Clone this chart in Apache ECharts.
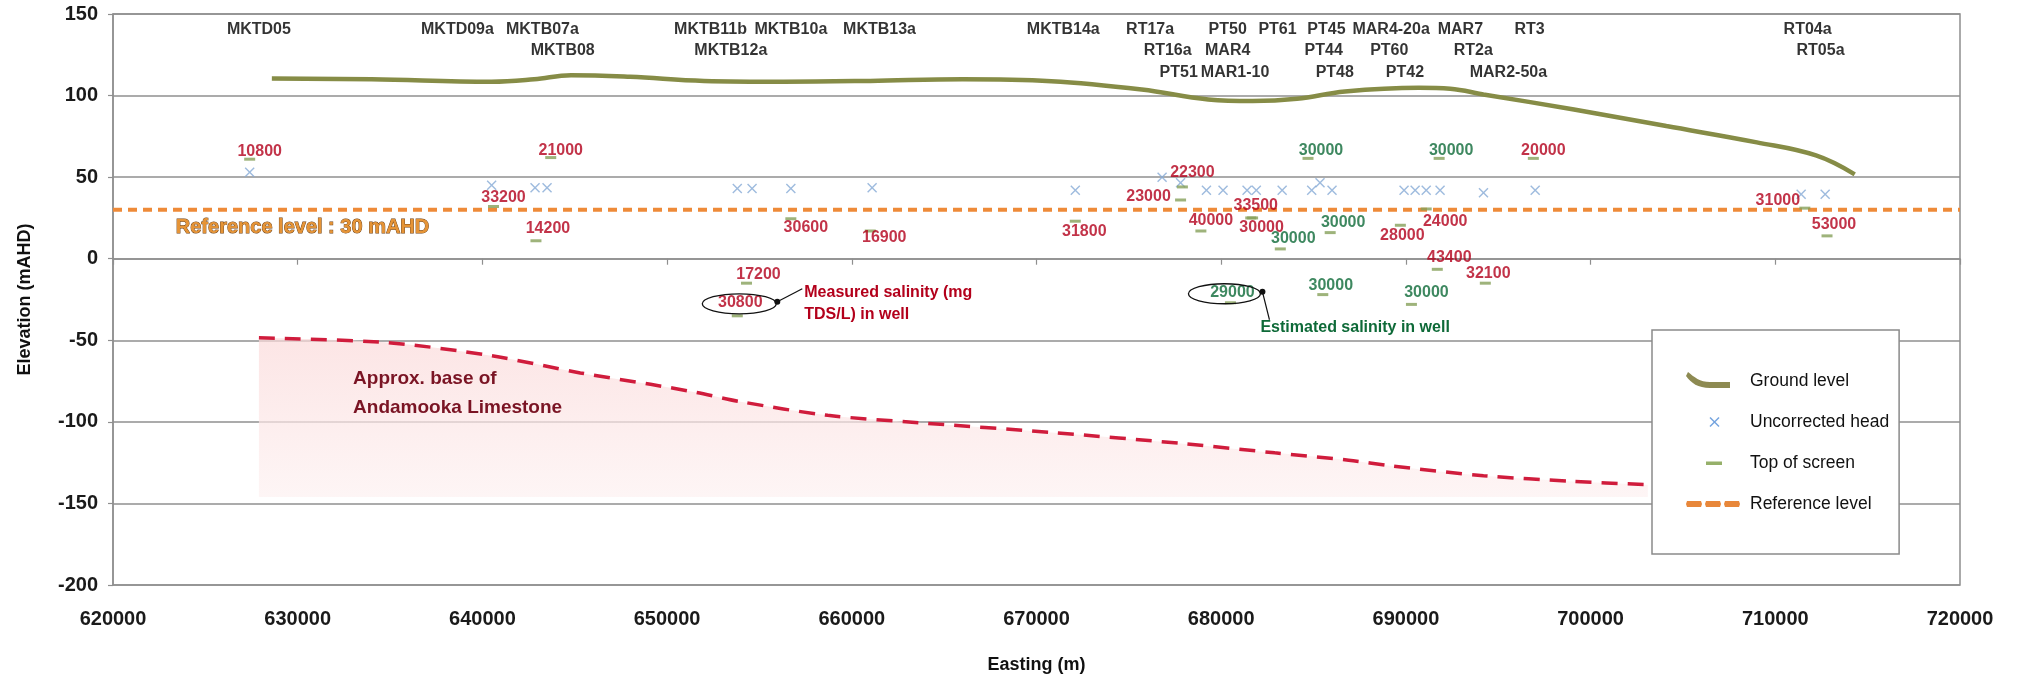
<!DOCTYPE html>
<html>
<head>
<meta charset="utf-8">
<title>Section – elevation and salinity</title>
<script src="https://cdn.jsdelivr.net/npm/echarts@6.0.0/dist/echarts.min.js"></script>
<style>
  html, body { margin: 0; padding: 0; background: #ffffff; }
  #chart { width: 2017px; height: 680px; }
</style>
</head>
<body>
<div id="chart"></div>
<script>
// ---- Axis ranges ----
const xRange = [620000, 720000, 10000];
const yRange = [-200, 150, 50];
const referenceLevel = 30;

// ---- Ground surface along the section (easting m / elevation mAHD) ----
const groundEasting   = [628600, 634000, 640500, 642800, 644800, 648000, 652000, 656300, 661000, 666000, 670800, 675700, 679300, 681700, 684100, 686700, 690700, 692400, 694200, 699100, 704100, 709000, 712200, 714300];
const groundElevation = [110.5,  110,    108.5,  110,    112.5,  111.5,  109,    108.5,  109,    110,    108.8,  103.7,  97.6,   96.6,   98,     102.5,  104.8,  104.2,  100.7,  91.5,   81.3,   71.3,   63.3,   51.7];

// ---- Approximate base of Andamooka Limestone ----
const baseEasting   = [627900, 634900, 640500, 645300, 649100, 651600, 653900, 658700, 663600, 670800, 678100, 682900, 686900, 689200, 694200, 699100, 703100];
const baseElevation = [-48.5,  -51.5,  -59.5,  -70,    -77,    -82,    -87.5,  -96,    -100.5, -106.5, -113.5, -119,   -123.5, -127,   -133,   -136.5, -138.5];
const baseShadeFloor = -146;

// ---- Uncorrected head in wells ----
const headEasting   = [627400, 640500, 642850, 643500, 653800, 654600, 656700, 661100, 672100, 676800, 677800, 679200, 680100, 681400, 681900, 683300, 684900, 685350, 686000, 689900, 690500, 691100, 691850, 694200, 697000, 711400, 712700];
const headElevation = [53,     45,     43.5,   43.5,   43,     43,     43,     43.5,   42,     50,     46.5,   42,     42,     42,     42,     42,     42,     46.5,   42,     42,     42,     42,     42,     40.5,   42,     39.5,   39.5];

// ---- Top of screen and salinity (mg TDS/L) ----
const screenEasting  = [627400, 643700, 640600, 642900, 656700, 661000, 672100, 654300, 653800, 684700, 691800, 696900, 677900, 677800, 678900, 681600, 681700, 683200, 685900, 689700, 691100, 691700, 694300, 680500, 685500, 690300, 711600, 712800];
const screenTop      = [61,     62,     32,     11,     24.5,   17,     23,     -15,    -35,    61.5,   61.5,   61.5,   44,     36,     17,     25,     25,     6,      16,     20.5,   30.5,   -6.5,   -15,    -27,    -22,    -28,    31,     14];
const salinity       = [10800,  21000,  33200,  14200,  30600,  16900,  31800,  17200,  30800,  30000,  30000,  20000,  22300,  23000,  40000,  33500,  30000,  30000,  30000,  28000,  24000,  43400,  32100,  29000,  30000,  30000,  31000,  53000];
const salinitySource = ['M','M','M','M','M','M','M','M','M','E','E','M','M','M','M','M','M','E','E','M','M','M','M','E','E','E','M','M'];

// Label placement of each salinity value relative to its screen marker (px)
const screenLabelOffset = [[10,-8],[10,-7],[10,-9],[12,-12],[15,9],[14,7],[9,10],[12,-9],[3,-13],[13,-8],[12,-8],[10,-8],[10,-14],[-32,-3],[10,-10],[5,-12],[9,10],[13,-10],[13,-10],[2,10],[19,13],[12,-12],[3,-10],[2,-10],[8,-9],[15,-12],[-27,-8],[7,-11]];

// ---- Well names ----
const wellName    = ['MKTD05','MKTD09a','MKTB07a','MKTB08','MKTB11b','MKTB12a','MKTB10a','MKTB13a','MKTB14a','RT17a','RT16a','PT51','PT50','MAR4','MAR1-10','PT61','PT45','PT44','PT48','MAR4-20a','PT60','PT42','MAR7','RT2a','MAR2-50a','RT3','RT04a','RT05a'];
const wellEasting = [627900, 638650, 643250, 644350, 652350, 653450, 656700, 661500, 671450, 676150, 677100, 677700, 680350, 680350, 680750, 683050, 685700, 685550, 686150, 689200, 689100, 689950, 692950, 693650, 695550, 696700, 711750, 712450];
const wellRow     = [0, 0, 0, 1, 0, 1, 0, 0, 0, 0, 1, 2, 0, 1, 2, 0, 0, 1, 2, 0, 1, 2, 0, 1, 2, 0, 0, 1];
const nameRowElevation = [140.5, 127.5, 114];

// ---- Styling ----
const FONT = "'Liberation Sans', Arial, sans-serif";
const RED = '#b3001b';
const GREEN = '#0e6a38';
const GRID = '#8f8f8f';

const zip = (a, b) => a.map((v, i) => [v, b[i]]);

const chart = echarts.init(document.getElementById('chart'), null, { renderer: 'canvas' });

// Legend icons drawn on a 59 x 20 box (the leading moves fix the icon bounds)
const BOX = 'M0,0M59,20';
const ICON_GROUND = 'path://' + BOX + 'M2,1C8,6 14,11 24,11L44,11L44,17L24,17C12,17 5,12 0,5Z';
const ICON_HEAD = 'path://' + BOX + 'M23.5,6L24.5,5L28.5,9L32.5,5L33.5,6L29.5,10L33.5,14L32.5,15L28.5,11L24.5,15L23.5,14L27.5,10Z';
const ICON_SCREEN = 'path://' + BOX + 'M20,8.5L36,8.5L36,12L20,12Z';
const ICON_REF = 'path://' + BOX + 'M1,7L15,7L16,10L15,13L1,13L0,10ZM20,7L34,7L35,10L34,13L20,13L19,10ZM39,7L53,7L54,10L53,13L39,13L38,10Z';
const CROSS = 'path://M0,1L1,0L5,4L9,0L10,1L6,5L10,9L9,10L5,6L1,10L0,9L4,5Z';

const screenData = screenEasting.map((x, i) => ({
  value: [x, screenTop[i]],
  label: {
    formatter: String(salinity[i]),
    color: salinitySource[i] === 'E' ? GREEN : RED,
    offset: screenLabelOffset[i]
  }
}));

const wellData = wellName.map((n, i) => ({
  name: n,
  value: [wellEasting[i], nameRowElevation[wellRow[i]]]
}));

const option = {
  backgroundColor: '#ffffff',
  animation: false,
  grid: {
    left: 113, right: 57, top: 14, bottom: 95,
    show: true, borderColor: GRID, borderWidth: 1.5,
    outerBoundsMode: 'none'
  },
  xAxis: {
    type: 'value', min: xRange[0], max: xRange[1], interval: xRange[2],
    name: 'Easting (m)', nameLocation: 'middle', nameGap: 71,
    nameTextStyle: { fontFamily: FONT, fontWeight: 'bold', fontSize: 18, color: '#111' },
    axisLine: { show: true, lineStyle: { color: GRID, width: 1.5 } },
    axisTick: { show: true, inside: false, length: 6, lineStyle: { color: GRID, width: 1.2 } },
    axisLabel: { margin: 24, fontFamily: FONT, fontWeight: 'bold', fontSize: 20, color: '#1a1a1a', formatter: v => String(v) },
    splitLine: { show: false }
  },
  yAxis: {
    type: 'value', min: yRange[0], max: yRange[1], interval: yRange[2],
    name: 'Elevation (mAHD)', nameLocation: 'middle', nameGap: 79, nameRotate: 90,
    nameTextStyle: { fontFamily: FONT, fontWeight: 'bold', fontSize: 18, color: '#111' },
    axisLine: { show: true, lineStyle: { color: GRID, width: 1.5 } },
    axisTick: { show: true, inside: false, length: 5, lineStyle: { color: GRID, width: 1.2 } },
    axisLabel: { margin: 15, fontFamily: FONT, fontWeight: 'bold', fontSize: 20, color: '#1a1a1a' },
    splitLine: { show: true, lineStyle: { color: GRID, width: 1.5 } }
  },
  legend: {
    orient: 'vertical', left: 1652, top: 330,
    padding: [41, 10, 40, 34],
    itemWidth: 59, itemHeight: 20, itemGap: 21,
    backgroundColor: '#ffffff', borderColor: '#8a8a8a', borderWidth: 1.5,
    selectedMode: false,
    textStyle: { fontFamily: FONT, fontSize: 17.5, color: '#111' },
    data: [
      { name: 'Ground level', icon: ICON_GROUND, itemStyle: { color: '#8d8a52', borderWidth: 0 } },
      { name: 'Uncorrected head', icon: ICON_HEAD, itemStyle: { color: '#4f8bd6', borderWidth: 0 } },
      { name: 'Top of screen', icon: ICON_SCREEN, itemStyle: { color: '#7c9c45', borderWidth: 0 } },
      { name: 'Reference level', icon: ICON_REF, itemStyle: { color: '#e8873a', borderWidth: 0 } }
    ]
  },
  series: [
    {
      name: 'Approx. base of Andamooka Limestone',
      type: 'line', z: 1,
      data: zip(baseEasting, baseElevation),
      smooth: 0.3, symbol: 'none',
      lineStyle: { color: '#d01c3c', width: 3.5, type: [16, 10] },
      areaStyle: {
        origin: baseShadeFloor,
        color: new echarts.graphic.LinearGradient(0, 0, 0, 1, [
          { offset: 0, color: '#fbdada' },
          { offset: 1, color: '#fdf1f1' }
        ])
      }
    },
    {
      name: 'Ground level',
      type: 'line', z: 3,
      data: zip(groundEasting, groundElevation),
      smooth: 0.4, symbol: 'none',
      itemStyle: { color: '#868c46' },
      lineStyle: { color: '#868c46', width: 4.5 }
    },
    {
      name: 'Reference level',
      type: 'line', z: 3,
      data: [[xRange[0], referenceLevel], [xRange[1], referenceLevel]],
      symbol: 'none',
      itemStyle: { color: '#ee8a38' },
      lineStyle: { color: '#ee8a38', width: 4, type: [9, 6] }
    },
    {
      name: 'Uncorrected head',
      type: 'scatter', z: 4,
      data: zip(headEasting, headElevation),
      symbol: CROSS, symbolSize: 10,
      itemStyle: { color: '#86aad6' }
    },
    {
      name: 'Top of screen',
      type: 'scatter', z: 5,
      data: screenData,
      symbol: 'rect', symbolSize: [11, 3],
      itemStyle: { color: '#86a05a' },
      label: {
        show: true, position: 'inside',
        fontFamily: FONT, fontWeight: 'bold', fontSize: 16
      },
      emphasis: { disabled: true }
    },
    {
      name: 'Wells',
      type: 'scatter', z: 5,
      data: wellData,
      symbolSize: 0,
      label: {
        show: true, position: 'inside', formatter: '{b}',
        fontFamily: FONT, fontWeight: 'bold', fontSize: 16, color: '#000'
      },
      emphasis: { disabled: true }
    }
  ]
};

chart.setOption(option);

// ---- Annotations placed from data coordinates ----
const px = (x, y) => chart.convertToPixel({ gridIndex: 0 }, [x, y]);

function labelCentre(i) {
  const p = px(screenEasting[i], screenTop[i]);
  return [p[0] + screenLabelOffset[i][0], p[1] + screenLabelOffset[i][1]];
}

const measuredIdx = salinity.indexOf(30800);
const estimatedIdx = salinity.indexOf(29000);
const mC = labelCentre(measuredIdx);
const eC = labelCentre(estimatedIdx);

const refPt = px(623400, referenceLevel);
const basePt = px(633000, -73.5);
const basePt2 = px(633000, -91.1);

const txt = (x, y, text, fill, size, extra) => ({
  type: 'text', x, y, z: 20,
  style: Object.assign({
    text, fill, fontFamily: FONT, fontWeight: 'bold', fontSize: size,
    align: 'left', verticalAlign: 'middle'
  }, extra || {})
});

chart.setOption({
  graphic: [
    txt(refPt[0], refPt[1] + 18, 'Reference level : 30 mAHD', '#e69436', 20, { stroke: '#6b3d12', lineWidth: 0.9 }),
    txt(basePt[0], basePt[1], 'Approx. base of', '#7a1424', 19),
    txt(basePt2[0], basePt2[1], 'Andamooka Limestone', '#7a1424', 19),
    // measured salinity call-out
    { type: 'ellipse', z: 20, shape: { cx: mC[0] - 1, cy: mC[1] + 1, rx: 37, ry: 10 }, style: { fill: null, stroke: '#111', lineWidth: 1.3 } },
    { type: 'circle', z: 20, shape: { cx: mC[0] + 37, cy: mC[1] - 1, r: 3 }, style: { fill: '#111' } },
    { type: 'polyline', z: 20, shape: { points: [[mC[0] + 37, mC[1] - 1], [mC[0] + 62, mC[1] - 14]] }, style: { stroke: '#111', lineWidth: 1.2, fill: null } },
    txt(mC[0] + 64, mC[1] - 10, 'Measured salinity (mg', RED, 16),
    txt(mC[0] + 64, mC[1] + 12, 'TDS/L) in well', RED, 16),
    // estimated salinity call-out
    { type: 'ellipse', z: 20, shape: { cx: eC[0] - 8, cy: eC[1] + 1, rx: 36, ry: 10 }, style: { fill: null, stroke: '#111', lineWidth: 1.3 } },
    { type: 'circle', z: 20, shape: { cx: eC[0] + 30, cy: eC[1] - 1, r: 3 }, style: { fill: '#111' } },
    { type: 'polyline', z: 20, shape: { points: [[eC[0] + 30, eC[1] - 1], [eC[0] + 37, eC[1] + 27]] }, style: { stroke: '#111', lineWidth: 1.2, fill: null } },
    txt(eC[0] + 28, eC[1] + 35, 'Estimated salinity in well', GREEN, 16)
  ]
});
</script>
</body>
</html>
